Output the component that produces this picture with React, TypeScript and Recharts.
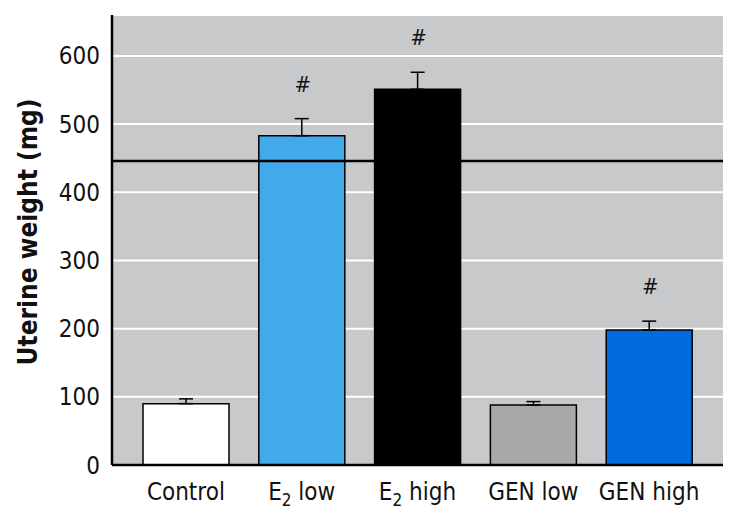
import React from "react";
import { BarChart, Bar, XAxis, YAxis, CartesianGrid, ReferenceLine, ErrorBar, Cell, LabelList } from "recharts";

const categories = ["Control", "E2 low", "E2 high", "GEN low", "GEN high"];
const means = [90, 483, 551, 88, 198];
const errors = [7, 25, 25, 5, 13];
const marks = ["", "#", "#", "", "#"];
const colors = ["#ffffff", "#42aaea", "#000000", "#a7a8aa", "#006cdc"];
const yTicks = [0, 100, 200, 300, 400, 500, 600];
const refValue = 446;

const data = categories.map((c, i) => ({ name: c, value: means[i], err: [0, errors[i]], mark: marks[i] }));

const FONT = "'Liberation Sans Narrow', 'Arial Narrow', 'DejaVu Sans Condensed', sans-serif";

const XTick = (props: any) => {
  const { x, y, payload } = props;
  const name: string = payload.value;
  if (name.startsWith("E2")) {
    const rest = name.slice(2);
    return (
      <text x={x} y={y + 27} textAnchor="middle" fontFamily={FONT} fontSize={24} fill="#111">
        E<tspan fontSize={17} dy={6}>2</tspan><tspan dy={-6}>{rest}</tspan>
      </text>
    );
  }
  return (
    <text x={x} y={y + 27} textAnchor="middle" fontFamily={FONT} fontSize={24} fill="#111">
      {name}
    </text>
  );
};

const MarkLabel = (props: any) => {
  const { x, y, width, height, value, index } = props;
  if (!value) return null;
  const errTop = y - (errors[index] * height) / means[index];
  return (
    <text x={x + width / 2 + 1} y={errTop - 27} textAnchor="middle" fontFamily={FONT} fontStyle="italic" fontSize={22} fill="#111">
      {value}
    </text>
  );
};

const YLabel = (props: any) => {
  const { viewBox } = props;
  const cy = viewBox.y + viewBox.height / 2 - 8;
  const cx = 28;
  return (
    <text
      x={cx}
      y={cy}
      transform={`rotate(-90, ${cx}, ${cy})`}
      textAnchor="middle"
      dominantBaseline="central"
      fontFamily={FONT}
      fontSize={26}
      fontWeight="bold"
      fill="#111"
    >
      Uterine weight (mg)
    </text>
  );
};

export default function App() {
  return (
    <div style={{ position: "absolute", left: 0, top: 0 }}>
      <BarChart width={736} height={514} data={data} margin={{ top: 15, right: 13, bottom: 0, left: 0 }}>
        <CartesianGrid vertical={false} stroke="#ffffff" strokeWidth={2} fill="#c8c9cb" />
        <ReferenceLine y={refValue} stroke="#000" strokeWidth={2.5} />
        <XAxis
          dataKey="name"
          padding={{ left: 16, right: 16 }}
          tickLine={false}
          axisLine={{ stroke: "#000", strokeWidth: 2.5 }}
          height={49}
          tick={<XTick />}
          interval={0}
        />
        <YAxis
          domain={[0, 660]}
          ticks={yTicks}
          tickLine={false}
          axisLine={{ stroke: "#000", strokeWidth: 2.5 }}
          width={112}
          tickMargin={6}
          tick={{ fontFamily: FONT, fontSize: 24, fill: "#111" }}
          label={<YLabel />}
        />
        <Bar dataKey="value" barSize={86} stroke="#000" strokeWidth={1.5} isAnimationActive={false}>
          {data.map((d, i) => (
            <Cell key={d.name} fill={colors[i]} />
          ))}
          <ErrorBar dataKey="err" width={7} stroke="#000" strokeWidth={1.5} direction="y" />
          <LabelList dataKey="mark" content={<MarkLabel />} />
        </Bar>
      </BarChart>
    </div>
  );
}
